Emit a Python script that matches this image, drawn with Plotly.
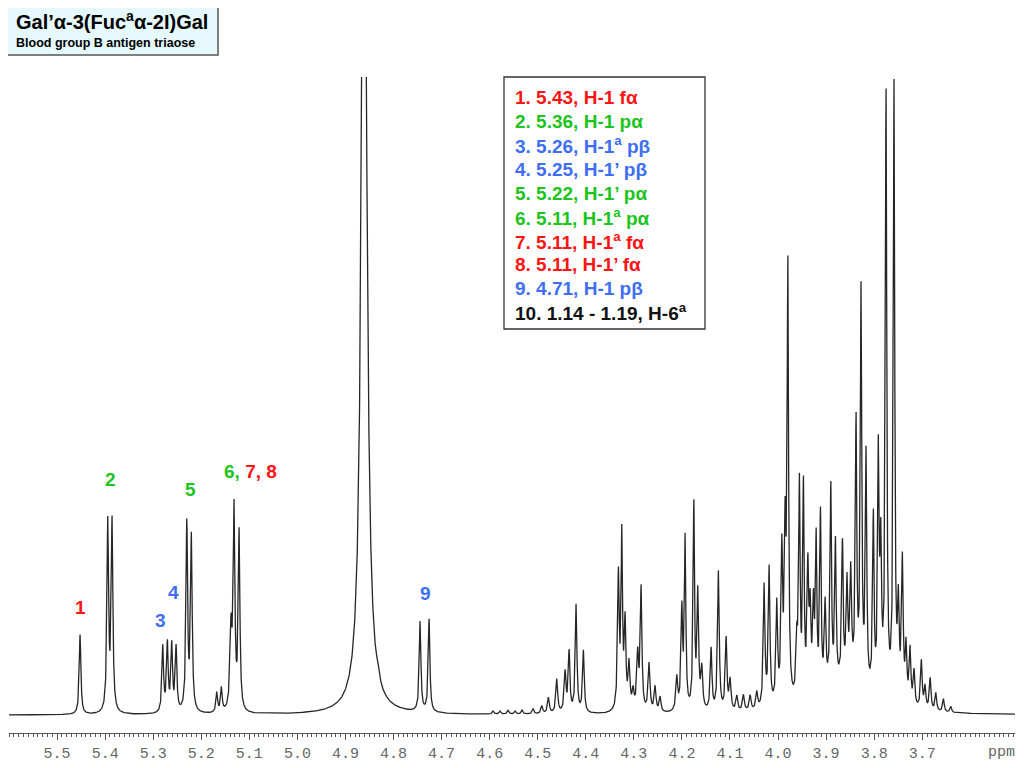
import numpy as np
import plotly.graph_objects as go

# ---- peak list (ppm, height in a.u., FWHM ppm)
peak_ppm = [
    5.4521, 5.3945, 5.3856,
    5.2801, 5.2705, 5.2614, 5.2524,
    5.2301, 5.2206,
    5.1677, 5.1581,
    5.1380, 5.1317, 5.1213,
    4.8612, 4.8321,
    4.7447, 4.7260,
    4.5928, 4.5782, 4.5616, 4.5470, 4.5325,
    4.5096, 4.4915, 4.4777, 4.4603, 4.4430, 4.4347, 4.4201, 4.4049,
    4.3321, 4.3250, 4.3182, 4.3099, 4.3015, 4.2920, 4.2849, 4.2683, 4.2558, 4.2454,
    4.2106, 4.2002, 4.1933, 4.1752, 4.1669, 4.1587, 4.1392, 4.1240, 4.1080, 4.0997,
    4.0857, 4.0720, 4.0580, 4.0441,
    4.0289, 4.0185, 4.0025, 3.9921, 3.9852, 3.9796,
    3.9609, 3.9555, 3.9472, 3.9380, 3.9332, 3.9263, 3.9207, 3.9118, 3.9020,
    3.8902, 3.8806, 3.8660, 3.8564, 3.8487, 3.8377, 3.8273, 3.8169,
    3.8017, 3.7913, 3.7863, 3.7753, 3.7587,
    3.7496, 3.7413, 3.7336, 3.7253, 3.7170, 3.7018, 3.6941, 3.6835, 3.6717, 3.6559, 3.6405,
    3.8600,
]
peak_height = [
    80, 190, 190,
    66, 68, 66, 64,
    188, 174,
    20, 24,
    80, 198, 178,
    1013, 8,
    90, 93,
    3, 3, 4, 3, 4,
    5, 8, 16, 34, 40, 60, 108, 62,
    135, 172, 85, 45, 18, 55, 122, 48, 25, 15,
    33, 100, 170, 205, 115, 40, 62, 140, 72, 30,
    15, 16, 15, 17,
    122, 138, 100, 150, 160, 430,
    55, 212, 210, 125, 80, 85, 150, 178, 85,
    200, 140, 135, 95, 105, 258, 395, 232,
    175, 235, 140, 603, 614,
    90, 140, 55, 55, 35, 48, 22, 32, 18, 13, 6,
    30,
]
peak_width = [
    0.0040, 0.0040, 0.0040,
    0.0040, 0.0040, 0.0040, 0.0040,
    0.0040, 0.0040,
    0.0040, 0.0040,
    0.0050, 0.0040, 0.0040,
    0.0125, 0.0060,
    0.0040, 0.0040,
    0.0040, 0.0040, 0.0040, 0.0040, 0.0040,
    0.0045, 0.0045, 0.0045, 0.0045, 0.0045, 0.0040, 0.0040, 0.0040,
    0.0040, 0.0035, 0.0040, 0.0045, 0.0045, 0.0045, 0.0040, 0.0045, 0.0045, 0.0045,
    0.0045, 0.0040, 0.0035, 0.0035, 0.0040, 0.0045, 0.0040, 0.0040, 0.0040, 0.0045,
    0.0045, 0.0045, 0.0045, 0.0045,
    0.0040, 0.0040, 0.0040, 0.0040, 0.0040, 0.0035,
    0.0040, 0.0035, 0.0035, 0.0040, 0.0040, 0.0040, 0.0035, 0.0035, 0.0040,
    0.0035, 0.0035, 0.0035, 0.0040, 0.0040, 0.0035, 0.0035, 0.0035,
    0.0035, 0.0035, 0.0040, 0.0035, 0.0035,
    0.0040, 0.0040, 0.0040, 0.0040, 0.0040, 0.0040, 0.0040, 0.0040, 0.0040, 0.0040, 0.0040,
    0.1000,
]

tick_values = [5.6, 5.5, 5.4, 5.3, 5.2, 5.1, 5.0, 4.9, 4.8, 4.7, 4.6, 4.5,
               4.4, 4.3, 4.2, 4.1, 4.0, 3.9, 3.8, 3.7, 3.6]
tick_labels = ["", "5.5", "5.4", "5.3", "5.2", "5.1", "5.0", "4.9", "4.8", "4.7",
               "4.6", "4.5", "4.4", "4.3", "4.2", "4.1", "4.0", "3.9", "3.8", "3.7", ""]
minor_ticks = [round(3.51 + 0.01 * i, 2) for i in range(210)]

peak_label_text = ["1", "2", "3", "4", "5", "9"]
peak_label_color = ["red", "green", "blue", "blue", "green", "blue"]
peak_label_ppm = [5.4521, 5.3897, 5.2857, 5.2586, 5.2233, 4.7343]
peak_label_y = [607, 480, 620, 592, 489, 593]   # pixel rows in the reference

legend_lines = [
    "1. 5.43, H-1 fα",
    "2. 5.36, H-1 pα",
    "3. 5.26, H-1<sup>a</sup> pβ",
    "4. 5.25, H-1’ pβ",
    "5. 5.22, H-1’ pα",
    "6. 5.11, H-1<sup>a</sup> pα",
    "7. 5.11, H-1<sup>a</sup> fα",
    "8. 5.11, H-1’ fα",
    "9. 4.71, H-1 pβ",
    "10. 1.14 - 1.19, H-6<sup>a</sup>",
]
legend_colors = ["red", "green", "blue", "blue", "green", "green", "red", "red", "blue", "black"]

title_text = "Gal’α-3(Fuc<sup>a</sup>α-2I)Gal"
subtitle_text = "Blood group B antigen triaose"

COL = {"red": "#ff1414", "green": "#1cc41c", "blue": "#3d6ef5", "black": "#111111"}

# ---- spectrum built from the peak list (Lorentzian lines)
x = np.arange(3.507, 5.6, 0.0003)
y = np.zeros_like(x)
for c, h, w in zip(peak_ppm, peak_height, peak_width):
    y += h / (1.0 + ((x - c) / (w / 2.0)) ** 2)

# ---- pixel helpers (reference pixel coords; page body adds an 8px offset)
OFF = 8
W, H = 1024 - OFF, 768 - OFF
L, R, T, B = 9 - OFF, 1015 - OFF, 77 - OFF, 733 - OFF
def px(xp):
    return (xp - OFF - L) / (R - L)
def py(yp):
    return (B - (yp - OFF)) / (B - T)

fig = go.Figure()
fig.add_trace(go.Scatter(x=x, y=y, mode="lines",
                         line=dict(color="#262626", width=1.3),
                         hoverinfo="skip", showlegend=False))

annotations = []
shapes = []

# title box
shapes.append(dict(type="rect", xref="paper", yref="paper",
                   x0=px(4), x1=px(218), y0=py(55), y1=py(2),
                   fillcolor="#e6f9fd", line=dict(color="#555555", width=1.5), layer="above"))
annotations.append(dict(xref="paper", yref="paper", x=px(14), y=py(21), xanchor="left",
                        yanchor="middle", showarrow=False, text="<b>" + title_text + "</b>",
                        font=dict(family="Liberation Sans", size=20, color="#000000")))
annotations.append(dict(xref="paper", yref="paper", x=px(14), y=py(43), xanchor="left",
                        yanchor="middle", showarrow=False, text="<b>" + subtitle_text + "</b>",
                        font=dict(family="Liberation Sans", size=12.5, color="#000000")))

# legend box
shapes.append(dict(type="rect", xref="paper", yref="paper",
                   x0=px(504), x1=px(705), y0=py(329), y1=py(77),
                   fillcolor="rgba(255,255,255,0)", line=dict(color="#333333", width=1.3), layer="above"))
for i, (t, c) in enumerate(zip(legend_lines, legend_colors)):
    annotations.append(dict(xref="paper", yref="paper", x=px(513), y=py(98 + 23.75 * i),
                            xanchor="left", yanchor="middle", showarrow=False,
                            text="<b>" + t + "</b>",
                            font=dict(family="Liberation Sans", size=19, color=COL[c])))

# peak labels
for t, c, xp, yp in zip(peak_label_text, peak_label_color, peak_label_ppm, peak_label_y):
    annotations.append(dict(xref="x", yref="paper", x=xp, y=py(yp), xanchor="center",
                            yanchor="middle", showarrow=False, text="<b>" + t + "</b>",
                            font=dict(family="Liberation Sans", size=19, color=COL[c])))
annotations.append(dict(xref="x", yref="paper", x=5.0974, y=py(472), xanchor="center",
                        yanchor="middle", showarrow=False,
                        text="<b><span style='color:%s'>6, </span><span style='color:%s'>7, 8</span></b>"
                             % (COL["green"], COL["red"]),
                        font=dict(family="Liberation Sans", size=19, color=COL["red"])))

# ppm unit label
annotations.append(dict(xref="paper", yref="paper", x=px(986), y=py(752), xanchor="left",
                        yanchor="middle", showarrow=False, text="ppm",
                        font=dict(family="Liberation Mono", size=15, color="#666666")))

fig.update_layout(
    width=W, height=H,
    margin=dict(l=L, r=W - R, t=T, b=H - B),
    paper_bgcolor="white", plot_bgcolor="white",
    shapes=shapes, annotations=annotations,
    xaxis=dict(range=[5.6, 3.507], tickmode="array", tickvals=tick_values, ticktext=tick_labels,
               ticks="outside", ticklen=6, tickwidth=1, tickcolor="#555555",
               showline=True, linecolor="#555555", linewidth=1, showgrid=False, zeroline=False,
               tickfont=dict(family="Liberation Mono", size=15, color="#666666"),
               minor=dict(tickmode="array", tickvals=minor_ticks, ticks="outside", ticklen=3,
                          tickcolor="#555555", tickwidth=1, showgrid=False)),
    yaxis=dict(range=[-18, 638], visible=False, showgrid=False, zeroline=False),
    showlegend=False,
)

fig.write_html("out.html")
